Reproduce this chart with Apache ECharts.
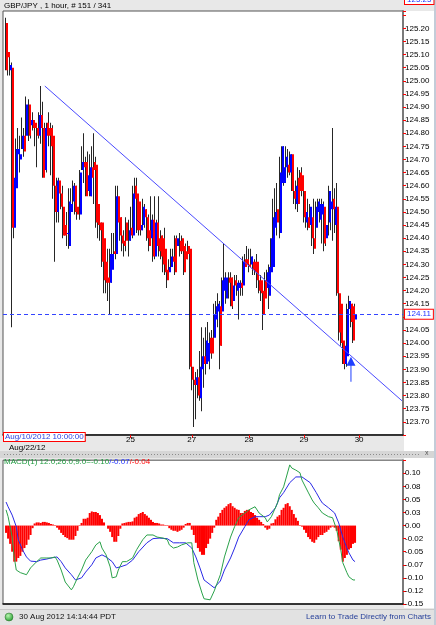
<!DOCTYPE html>
<html>
<head>
<meta charset="utf-8">
<script src="https://cdn.jsdelivr.net/npm/echarts@6/dist/echarts.min.js"></script>
<style>
html, body { margin: 0; padding: 0; background: #e8e8e8; }
#chart { width: 436px; height: 625px; }
</style>
</head>
<body>
<div id="chart"></div>
<script>
// --- data ---
var NSLOTS = 196;
var daySlots = [11, 38, 62, 92, 120, 147, 174];
var dayNames = ['23', '24', '25', '27', '28', '29', '30'];

// hourly candles: [open, close, low, high]
var candles = [
  [125.22,125.04,125.04,125.24],[125.11,125.09,125.02,125.13],[125.04,125.06,125.02,125.10],[125.05,124.44,124.06,125.07],
  [124.44,124.63,124.40,124.66],[124.59,124.74,124.59,124.78],[124.72,124.74,124.69,124.82],[124.70,124.72,124.65,124.79],
  [124.74,124.79,124.74,124.86],[124.79,124.73,124.71,124.82],[124.79,124.91,124.77,124.94],[124.91,124.79,124.77,124.93],
  [124.83,124.85,124.78,124.88],[124.85,124.82,124.81,124.88],[124.84,124.82,124.75,124.85],[124.82,124.79,124.67,124.83],
  [124.79,124.87,124.78,124.88],[124.87,124.82,124.76,124.98],[124.82,124.63,124.63,124.92],[124.66,124.82,124.65,124.84],
  [124.84,124.79,124.65,124.84],[124.82,124.79,124.75,124.88],[124.82,124.75,124.64,124.84],[124.79,124.60,124.55,124.83],
  [124.60,124.50,124.31,124.67],[124.50,124.62,124.46,124.63],[124.62,124.57,124.46,124.63],[124.57,124.52,124.51,124.60],
  [124.52,124.41,124.40,124.60],[124.45,124.41,124.41,124.48],[124.42,124.42,124.37,124.50],[124.37,124.54,124.36,124.59],
  [124.50,124.53,124.46,124.59],[124.54,124.60,124.53,124.62],[124.60,124.50,124.49,124.61],[124.52,124.49,124.47,124.60],
  [124.49,124.65,124.47,124.66],[124.66,124.69,124.66,124.75],[124.69,124.67,124.61,124.80],[124.69,124.56,124.56,124.71],
  [124.58,124.64,124.58,124.73],[124.56,124.67,124.56,124.72],[124.67,124.63,124.56,124.75],[124.69,124.66,124.53,124.80],
  [124.68,124.46,124.44,124.71],[124.53,124.45,124.40,124.56],[124.46,124.43,124.39,124.48],[124.46,124.31,124.29,124.46],
  [124.40,124.24,124.19,124.42],[124.31,124.23,124.19,124.34],[124.25,124.23,124.16,124.36],[124.23,124.34,124.11,124.36],
  [124.28,124.34,124.23,124.42],[124.35,124.34,124.30,124.42],[124.34,124.56,124.32,124.60],[124.56,124.46,124.45,124.60],
  [124.48,124.41,124.39,124.51],[124.41,124.38,124.35,124.48],[124.39,124.37,124.33,124.43],[124.46,124.39,124.35,124.48],
  [124.39,124.43,124.33,124.47],[124.44,124.41,124.39,124.52],[124.41,124.57,124.40,124.60],[124.60,124.55,124.53,124.63],
  [124.57,124.43,124.42,124.63],[124.54,124.43,124.41,124.56],[124.43,124.45,124.41,124.52],[124.45,124.52,124.43,124.55],
  [124.51,124.48,124.44,124.53],[124.48,124.40,124.39,124.51],[124.43,124.37,124.35,124.49],[124.40,124.47,124.39,124.56],
  [124.47,124.33,124.31,124.49],[124.33,124.46,124.32,124.56],[124.46,124.37,124.35,124.47],[124.40,124.35,124.33,124.56],
  [124.41,124.33,124.32,124.43],[124.40,124.30,124.27,124.41],[124.36,124.27,124.26,124.44],[124.28,124.24,124.21,124.33],
  [124.27,124.29,124.25,124.32],[124.29,124.33,124.28,124.36],[124.33,124.31,124.29,124.36],[124.40,124.27,124.26,124.41],
  [124.37,124.40,124.35,124.41],[124.39,124.35,124.33,124.42],[124.40,124.35,124.34,124.41],[124.37,124.27,124.26,124.39],
  [124.35,124.32,124.30,124.38],[124.37,124.34,124.32,124.39],[124.36,123.91,123.90,124.37],[123.91,123.86,123.82,123.94],
  [123.86,123.84,123.68,123.90],[123.84,123.87,123.71,123.89],[123.87,123.80,123.79,123.90],[123.79,123.91,123.78,123.97],
  [123.90,123.95,123.74,124.06],[123.95,123.92,123.83,124.02],[123.92,124.01,123.88,124.06],[123.93,124.00,123.92,124.08],
  [124.02,123.96,123.90,124.04],[124.02,123.96,123.94,124.05],[124.02,124.11,124.01,124.15],[124.09,124.14,124.07,124.16],
  [124.12,124.15,124.06,124.19],[124.14,123.99,123.90,124.16],[124.12,124.24,123.99,124.25],[124.20,124.25,124.16,124.38],
  [124.17,124.25,124.15,124.27],[124.25,124.23,124.17,124.27],[124.25,124.14,124.14,124.27],[124.16,124.22,124.13,124.25],
  [124.24,124.22,124.19,124.26],[124.20,124.23,124.18,124.26],[124.21,124.23,124.09,124.24],[124.23,124.21,124.18,124.24],
  [124.22,124.31,124.18,124.33],[124.32,124.29,124.27,124.34],[124.32,124.30,124.29,124.37],[124.30,124.29,124.27,124.36],
  [124.30,124.33,124.29,124.36],[124.31,124.28,124.26,124.33],[124.31,124.27,124.26,124.32],[124.31,124.24,124.21,124.34],
  [124.24,124.20,124.19,124.27],[124.24,124.19,124.16,124.26],[124.20,124.11,124.05,124.22],[124.24,124.17,124.11,124.27],
  [124.21,124.27,124.19,124.28],[124.18,124.29,124.13,124.30],[124.27,124.40,124.26,124.40],[124.29,124.48,124.29,124.55],
  [124.44,124.50,124.31,124.59],[124.51,124.46,124.41,124.61],[124.42,124.65,124.40,124.71],[124.61,124.75,124.56,124.75],
  [124.61,124.67,124.60,124.75],[124.67,124.71,124.65,124.75],[124.68,124.65,124.63,124.74],[124.65,124.72,124.64,124.73],
  [124.72,124.58,124.58,124.72],[124.58,124.55,124.53,124.61],[124.53,124.60,124.51,124.62],[124.63,124.53,124.50,124.67],
  [124.65,124.58,124.56,124.66],[124.64,124.58,124.56,124.67],[124.58,124.48,124.46,124.59],[124.46,124.50,124.44,124.58],
  [124.48,124.44,124.43,124.55],[124.45,124.52,124.44,124.53],[124.48,124.40,124.37,124.49],[124.40,124.36,124.34,124.55],
  [124.44,124.52,124.37,124.54],[124.50,124.54,124.45,124.55],[124.47,124.53,124.46,124.55],[124.49,124.53,124.38,124.55],
  [124.52,124.38,124.35,124.54],[124.40,124.45,124.37,124.51],[124.46,124.58,124.41,124.60],[124.51,124.54,124.43,124.58],
  [124.55,124.51,124.39,124.82],[124.45,124.52,124.42,124.59],[124.52,124.19,124.18,124.61],[124.19,124.04,124.01,124.20],
  [124.15,124.00,123.99,124.16],[124.01,123.92,123.92,124.02],[123.92,123.99,123.90,124.00],[123.95,124.13,123.91,124.15],
  [124.13,124.16,124.12,124.18],[124.15,124.08,124.06,124.15],[124.14,124.01,124.00,124.15],[124.09,124.11,124.08,124.15]
];

// MACD histogram, one value per candle
var macdHist = [
  -0.014,-0.025,-0.035,-0.050,-0.069,-0.069,-0.062,-0.058,-0.050,-0.043,
  -0.037,-0.027,-0.018,-0.005,0.004,0.006,0.006,0.005,0.007,0.007,
  0.006,0.005,0.003,0.002,0.001,-0.004,-0.008,-0.014,-0.018,-0.022,
  -0.024,-0.027,-0.027,-0.027,-0.020,-0.010,0.001,0.005,0.013,0.013,
  0.015,0.024,0.027,0.026,
  0.026,0.024,0.020,0.013,0.006,
  0.000,-0.006,-0.012,-0.022,-0.031,-0.031,-0.020,-0.006,0.004,0.005,
  0.006,0.007,0.007,0.008,0.015,0.017,0.022,0.024,0.026,0.022,
  0.019,0.015,0.011,0.007,0.005,0.005,0.004,0.002,0.002,0.001,
  0.001,-0.005,-0.008,-0.010,-0.010,-0.012,-0.010,-0.008,-0.004,
  0.003,0.005,0.005,-0.008,-0.018,-0.033,-0.043,-0.050,-0.056,-0.056,
  -0.043,-0.035,-0.025,-0.014,-0.004,0.011,0.017,0.024,0.030,0.034,
  0.037,0.041,0.043,0.037,0.034,0.031,0.030,0.024,0.024,0.028,
  0.030,0.030,0.026,0.024,0.020,0.015,0.011,0.007,0.003,-0.004,
  -0.008,-0.006,0.004,0.005,0.012,0.017,0.020,0.030,0.034,0.041,
  0.043,0.037,0.030,0.022,0.015,0.009,
  0.001,-0.002,-0.008,-0.014,-0.022,-0.026,-0.031,-0.033,-0.027,-0.022,
  -0.018,-0.018,-0.014,-0.012,-0.008,-0.004,-0.002,-0.004,-0.010,-0.030,
  -0.046,-0.069,-0.062,-0.056,-0.046,-0.043,-0.035,-0.033
];

// MACD (green) and signal (blue) lines: [slot, value]
var macdLine = [[1,0.030],[2,0.017],[4,-0.022],[5,-0.060],[6,-0.085],[8,-0.090],[11,-0.094],[13,-0.081],[16,-0.069],[18,-0.062],
  [21,-0.062],[23,-0.062],[25,-0.060],[26,-0.066],[28,-0.085],[30,-0.108],[33,-0.123],[34,-0.117],[36,-0.100],[38,-0.085],
  [40,-0.066],[43,-0.050],[45,-0.037],[47,-0.031],[48,-0.043],[50,-0.056],[52,-0.079],[53,-0.100],[55,-0.098],[56,-0.085],
  [58,-0.069],[60,-0.069],[63,-0.062],[65,-0.046],[68,-0.027],[70,-0.018],[73,-0.018],[75,-0.022],[78,-0.024],[80,-0.027],
  [81,-0.037],[83,-0.043],[85,-0.041],[87,-0.037],[90,-0.033],[92,-0.033],[93,-0.071],[95,-0.104],[97,-0.129],[98,-0.140],
  [101,-0.142],[103,-0.125],[106,-0.094],[108,-0.060],[111,-0.022],[113,-0.002],[115,0.015],[118,0.024],[120,0.030],[123,0.036],
  [125,0.024],[128,0.015],[129,0.007],[131,0.017],[134,0.043],[135,0.059],[137,0.074],[140,0.116],[141,0.110],[143,0.106],
  [145,0.101],[146,0.087],[149,0.064],[151,0.049],[152,0.043],[154,0.034],[156,0.024],[159,0.017],[161,0.015],[163,-0.008],
  [165,-0.046],[166,-0.071],[168,-0.090],[169,-0.098],[171,-0.104],[172,-0.104]];
var signalLine = [[1,0.045],[2,0.036],[4,0.020],[6,-0.002],[7,-0.027],[9,-0.046],[11,-0.060],[13,-0.068],[16,-0.069],[18,-0.066],
  [21,-0.064],[23,-0.062],[26,-0.060],[28,-0.069],[30,-0.081],[33,-0.094],[35,-0.104],[38,-0.100],[40,-0.089],[43,-0.075],
  [45,-0.062],[48,-0.056],[50,-0.060],[53,-0.069],[55,-0.081],[57,-0.079],[60,-0.075],[63,-0.066],[66,-0.050],[70,-0.033],
  [73,-0.025],[76,-0.024],[80,-0.025],[83,-0.033],[86,-0.033],[89,-0.033],[92,-0.043],[94,-0.060],[96,-0.081],[98,-0.104],
  [101,-0.113],[103,-0.119],[106,-0.106],[108,-0.085],[111,-0.062],[113,-0.043],[115,-0.022],[118,-0.002],[120,0.011],[123,0.017],
  [125,0.017],[128,0.017],[130,0.020],[133,0.034],[135,0.053],[137,0.063],[140,0.082],[143,0.093],[146,0.093],[150,0.082],
  [153,0.063],[155,0.049],[156,0.043],[159,0.034],[162,0.024],[164,0.005],[166,-0.022],[168,-0.043],[169,-0.052],[171,-0.066],
  [172,-0.069]];

var macdTickLabels = ['0.10', '0.08', '0.05', '0.03', '0.00', '-0.02', '-0.05', '-0.07', '-0.10', '-0.12', '-0.15'];
var priceLabelMin = 123.70, priceLabelMax = 125.20;
var lastPrice = 124.11;
var lastMacd = -0.10;
var trendStart = [20, 124.98];
var trendEnd = [195, 123.78];
var arrowAt = [170, 123.90];

var upColor = '#0000ff';
var downColor = '#ff0000';
var wickColor = '#262626';
var font = 'Liberation Sans';

var categories = [];
for (var s = 0; s < NSLOTS; s++) categories.push('');
daySlots.forEach(function(slot, i) { categories[slot] = dayNames[i]; });
function isDay(idx) { return categories[idx] !== ''; }

var candleData = candles.map(function(c, i) { return [i + 1, c[0], c[1], c[2], c[3]]; });

// wicks are drawn as one series, bodies as a second one on top
function renderWick(params, api) {
  var slot = api.value(0);
  var x = Math.round(api.coord([slot, api.value(1)])[0]);
  var yl = api.coord([slot, api.value(3)])[1];
  var yh = api.coord([slot, api.value(4)])[1];
  return { type: 'rect', shape: { x: x - 1, y: yh, width: 1, height: Math.max(yl - yh, 1) }, style: { fill: wickColor } };
}
function renderBody(params, api) {
  var slot = api.value(0);
  var o = api.value(1), c = api.value(2);
  var x = Math.round(api.coord([slot, o])[0]);
  var yo = api.coord([slot, o])[1];
  var yc = api.coord([slot, c])[1];
  var top = Math.min(yo, yc);
  var h = Math.max(Math.abs(yc - yo), 1);
  return { type: 'rect', shape: { x: x, y: top, width: 2, height: h }, style: { fill: c >= o ? upColor : downColor } };
}

var boxLabel = {
  show: true, position: 'end', distance: 2, fontSize: 8, fontFamily: font,
  color: '#2233ff', backgroundColor: '#fff', borderColor: '#ff0000', borderWidth: 1, padding: [1, 2, 0, 2]
};

var chart = echarts.init(document.getElementById('chart'), null, { renderer: 'canvas' });
chart.setOption({
  animation: false,
  backgroundColor: '#e8e8e8',
  textStyle: { fontFamily: font },
  grid: [
    { left: 3, top: 11, width: 400, height: 423.9, show: true, backgroundColor: '#fff', borderColor: '#555', borderWidth: 1 },
    { left: 3, top: 460.2, width: 400, height: 143.8, show: true, backgroundColor: '#fff', borderColor: '#555', borderWidth: 1 }
  ],
  xAxis: [
    {
      type: 'category', gridIndex: 0, data: categories, boundaryGap: true,
      axisLine: { show: true, lineStyle: { color: '#111', width: 1.5 } },
      axisTick: { show: true, interval: isDay, alignWithLabel: true, length: 3, lineStyle: { color: '#ff0000' } },
      axisLabel: { interval: isDay, fontSize: 8, color: '#000', margin: 1 },
      splitLine: { show: false }
    },
    {
      type: 'category', gridIndex: 1, data: categories, boundaryGap: true,
      axisLine: { show: true, onZero: false, lineStyle: { color: '#111', width: 1.5 } },
      axisTick: { show: false }, axisLabel: { show: false }, splitLine: { show: false }
    }
  ],
  yAxis: [
    {
      type: 'value', gridIndex: 0, position: 'right', min: 123.65, max: 125.266, interval: 0.05,
      axisLine: { show: true, lineStyle: { color: '#7a7a7a', width: 2 } },
      axisTick: { show: true, length: 3, lineStyle: { color: '#ff0000' } },
      axisLabel: {
        fontSize: 8, color: '#000', margin: 2,
        formatter: function(v) {
          if (v < priceLabelMin - 1e-6 || v > priceLabelMax + 1e-6) return '';
          return v.toFixed(2);
        }
      },
      splitLine: { show: false }
    },
    {
      type: 'value', gridIndex: 1, position: 'right', min: -0.15, max: 0.125, interval: 0.025,
      axisLine: { show: true, lineStyle: { color: '#7a7a7a', width: 2 } },
      axisTick: { show: true, length: 3, lineStyle: { color: '#ff0000' } },
      axisLabel: {
        fontSize: 8, color: '#000', margin: 2,
        formatter: function(v) {
          var k = Math.round((0.10 - v) / 0.025);
          return (k >= 0 && k < macdTickLabels.length) ? macdTickLabels[k] : '';
        }
      },
      splitLine: { show: false }
    }
  ],
  series: [
    {
      name: 'wicks', type: 'custom', xAxisIndex: 0, yAxisIndex: 0,
      renderItem: renderWick,
      encode: { x: 0, y: [1, 2, 3, 4] },
      data: candleData
    },
    {
      name: 'GBP/JPY', type: 'custom', xAxisIndex: 0, yAxisIndex: 0,
      renderItem: renderBody,
      encode: { x: 0, y: [1, 2, 3, 4] },
      data: candleData
    },
    {
      name: 'marks', type: 'line', xAxisIndex: 0, yAxisIndex: 0, data: [], symbol: 'none',
      markLine: {
        silent: true, symbol: ['none', 'none'], animation: false,
        label: { show: false },
        data: [
          [
            { coord: trendStart, lineStyle: { type: 'solid', color: '#4a4aff', width: 1 } },
            { coord: trendEnd }
          ],
          {
            yAxis: lastPrice,
            lineStyle: { type: [4, 3], color: '#3344ff', width: 1 },
            label: Object.assign({ formatter: lastPrice.toFixed(2) }, boxLabel)
          }
        ]
      },
      markPoint: {
        silent: true,
        symbol: 'path://M4.5,0 L9,9 L5,9 L5,25 L4,25 L4,9 L0,9 Z',
        symbolSize: [9, 25],
        itemStyle: { color: '#1f3fff' },
        label: { show: false },
        data: [{ coord: arrowAt }]
      }
    },
    {
      name: 'Hist', type: 'bar', xAxisIndex: 1, yAxisIndex: 1, barCategoryGap: '0%',
      itemStyle: { color: '#ff0000' },
      data: macdHist.map(function(v, i) { return [i + 1, v]; })
    },
    {
      name: 'Signal', type: 'line', xAxisIndex: 1, yAxisIndex: 1, symbol: 'none',
      lineStyle: { color: '#2a2ae6', width: 1 },
      data: signalLine
    },
    {
      name: 'MACD', type: 'line', xAxisIndex: 1, yAxisIndex: 1, symbol: 'none',
      lineStyle: { color: '#2aa24a', width: 1 },
      data: macdLine,
      markLine: {
        silent: true, symbol: ['none', 'none'],
        lineStyle: { opacity: 0 },
        data: [{ yAxis: lastMacd, label: Object.assign({ formatter: lastMacd.toFixed(2) }, boxLabel) }]
      }
    }
  ],
  graphic: [
    { type: 'rect', z: -10, shape: { x: 404, y: 11, width: 30, height: 440 }, style: { fill: '#fff' } },
    { type: 'rect', z: -10, shape: { x: 404, y: 458, width: 30, height: 150 }, style: { fill: '#fff' } },
    { type: 'rect', z: -5, shape: { x: 0, y: 451, width: 436, height: 7 }, style: { fill: '#d6d6d6' } },
    { type: 'line', z: -4, shape: { x1: 4, y1: 454.5, x2: 420, y2: 454.5 }, style: { stroke: '#8c8c8c', lineDash: [1, 2], lineWidth: 1 } },
    { type: 'text', z: 100, x: 425, y: 450, style: { text: 'x', fontSize: 7, fontFamily: font, fill: '#555' } },
    { type: 'rect', z: -5, shape: { x: 434, y: 0, width: 2, height: 625 }, style: { fill: '#c3ccd8' } },
    { type: 'text', z: 100, x: 4, y: 2, style: { text: 'GBP/JPY , 1 hour, # 151 / 341', fontSize: 8, fontFamily: font, fill: '#000' } },
    {
      type: 'text', z: 100, x: 405, y: -5,
      style: { text: '125.25', fontSize: 8, fontFamily: font, fill: '#2233ff', backgroundColor: '#fff', borderColor: '#ff0000', borderWidth: 1, padding: [1, 2, 0, 2] }
    },
    {
      type: 'text', z: 100, x: 4, y: 433,
      style: { text: 'Aug/10/2012 10:00:00', fontSize: 8, fontFamily: font, fill: '#2b3ee0', backgroundColor: '#fff', borderColor: '#ff0000', borderWidth: 1, padding: [0, 1, 0, 1] }
    },
    { type: 'text', z: 100, x: 9, y: 444, style: { text: 'Aug/22/12', fontSize: 8, fontFamily: font, fill: '#000' } },
    {
      type: 'text', z: 100, x: 4, y: 458,
      style: {
        text: '{g|MACD(1) 12.0;26.0;9.0=-0.10}{b|/-0.07}{r|/-0.04}',
        fontSize: 8, fontFamily: font,
        rich: {
          g: { fill: '#1f9a3f', fontSize: 8, fontFamily: font },
          b: { fill: '#2233ff', fontSize: 8, fontFamily: font },
          r: { fill: '#ff0000', fontSize: 8, fontFamily: font }
        }
      }
    },
    { type: 'rect', z: -5, shape: { x: 0, y: 609, width: 434, height: 16 }, style: { fill: '#e2e2e2' } },
    { type: 'line', z: -4, shape: { x1: 0, y1: 609.5, x2: 434, y2: 609.5 }, style: { stroke: '#c8c8c8', lineWidth: 1 } },
    {
      type: 'circle', z: 100, shape: { cx: 9, cy: 617, r: 4 },
      style: {
        fill: new echarts.graphic.RadialGradient(0.4, 0.35, 0.7, [
          { offset: 0, color: '#b8f5b0' }, { offset: 1, color: '#1e9a2a' }
        ]),
        stroke: '#2a6a2a', lineWidth: 0.5
      }
    },
    { type: 'text', z: 100, x: 19, y: 613, style: { text: '30 Aug 2012 14:14:44 PDT', fontSize: 8, fontFamily: font, fill: '#111' } },
    { type: 'text', z: 100, x: 431, y: 613, style: { text: 'Learn to Trade Directly from Charts', fontSize: 8, fontFamily: font, fill: '#27409a', align: 'right' } }
  ]
});
window.addEventListener('resize', function() { chart.resize(); });
</script>
</body>
</html>
